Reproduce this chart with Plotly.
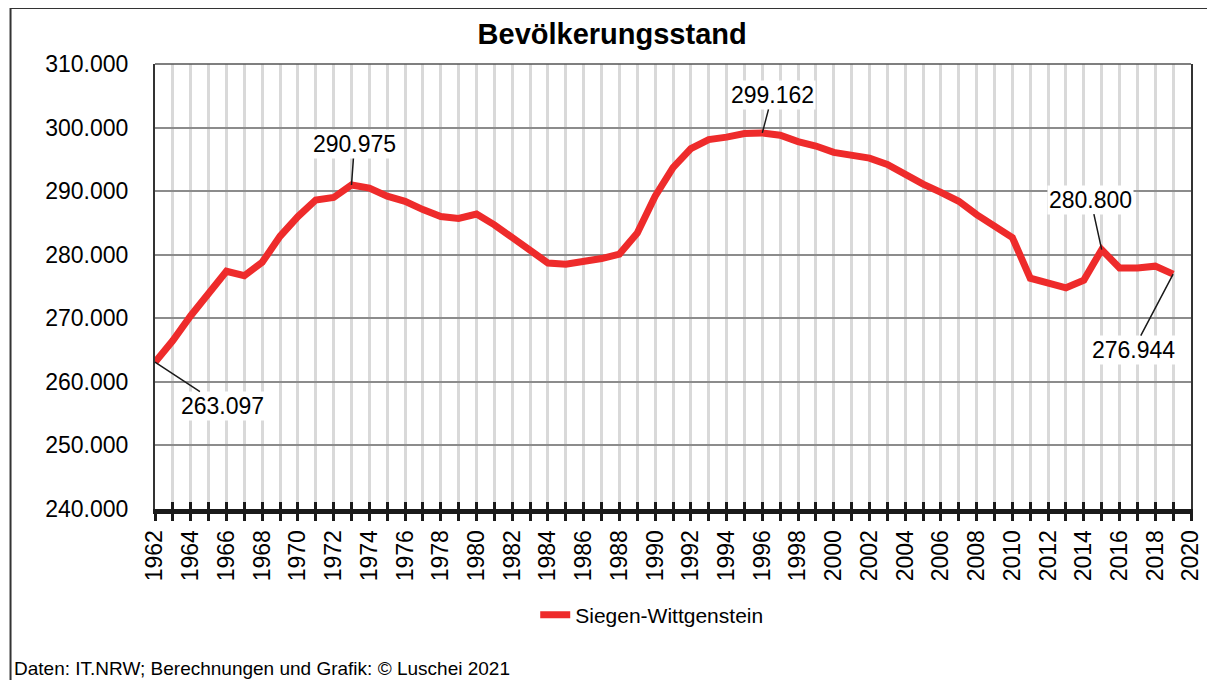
import plotly.graph_objects as go

years = list(range(1962, 2020))
population = [
    263097, 266500, 270400, 274000, 277400, 276700, 278800, 282900, 286000, 288600,
    289000, 290975, 290470, 289200, 288400, 287100, 286000, 285700, 286400, 284700,
    282600, 280800, 278700, 278500, 278900, 279400, 280100, 283400, 289200, 293700,
    296700, 298100, 298500, 299050, 299162, 298800, 297800, 297100, 296100, 295600,
    295200, 294200, 292600, 291100, 289800, 288400, 286300, 284500, 282700, 276300,
    275500, 274800, 276000, 280800, 277900, 277900, 278200, 276944,
]
series_name = "Siegen-Wittgenstein"
title_text = "Bevölkerungsstand"
footer_text = "Daten: IT.NRW; Berechnungen und Grafik: © Luschei 2021"
label_years = [1962, 1973, 1996, 2015, 2019]
label_offsets = {1962: (67, 44), 1973: (3, -41), 1996: (10, -38), 2015: (-11, -50), 2019: (-40, 76)}
x_tick_years = list(range(1962, 2021))
x_tick_text = [str(y) if y % 2 == 0 else "" for y in x_tick_years]

FONT = "Liberation Sans, Arial, sans-serif"
RED = "#ee2b2b"

# page body has an 8px margin; figure coordinates = page coordinates - 8
OFF = 8
W, H = 1215 - OFF, 680 - OFF
ML, MT = 155 - OFF, 64 - OFF
MR = W - (1202 - OFF)
MB = H - (509 - OFF)
pw, ph = W - ML - MR, H - MT - MB


def px_x(page_x):
    return (page_x - OFF - ML) / pw


def px_y(page_y):
    return ((H - MB) - (page_y - OFF)) / ph


fig = go.Figure()
fig.add_trace(go.Scatter(
    x=years, y=population, mode="lines", name=series_name,
    line=dict(color=RED, width=7), xaxis="x", yaxis="y",
))
# invisible helper trace so the second (tick-only) x axis renders
fig.add_trace(go.Scatter(
    x=years, y=population, mode="lines", showlegend=False, hoverinfo="skip",
    line=dict(color="rgba(0,0,0,0)", width=0), xaxis="x2", yaxis="y",
))


def fmt(v):
    return f"{v:,}".replace(",", ".")


for yr in label_years:
    v = population[years.index(yr)]
    ax, ay = label_offsets[yr]
    fig.add_annotation(
        x=yr, y=v, xref="x", yref="y", text=fmt(v), showarrow=True,
        arrowhead=0, arrowwidth=1.5, arrowcolor="#1a1a1a", ax=ax, ay=ay,
        bgcolor="white", font=dict(family=FONT, size=23, color="black"),
        borderpad=1,
    )

fig.add_annotation(
    x=px_x(10), y=px_y(668), xref="paper", yref="paper", xanchor="left", yanchor="middle",
    text=footer_text, showarrow=False, font=dict(family=FONT, size=19, color="black"),
)

# outer frame
fig.add_shape(type="rect", xref="paper", yref="paper",
              x0=px_x(9), x1=px_x(1230), y0=px_y(700), y1=px_y(8),
              line=dict(color="#333333", width=2), layer="below")
# plot area top border
fig.add_shape(type="line", xref="paper", yref="paper", x0=0, x1=1, y0=1, y1=1,
              line=dict(color="#555555", width=1.5))

fig.update_layout(
    width=W, height=H,
    margin=dict(l=ML, r=MR, t=MT, b=MB),
    paper_bgcolor="white", plot_bgcolor="white",
    separators=",.",
    title=dict(text=f"<b>{title_text}</b>", x=px_x(617), xref="paper", xanchor="center",
               y=1 - (34 - OFF) / H, yanchor="middle", font=dict(family=FONT, size=29, color="black")),
    showlegend=True,
    legend=dict(orientation="h", x=px_x(657), xanchor="center",
                y=px_y(615), yanchor="middle",
                font=dict(family=FONT, size=21, color="black"), bgcolor="rgba(0,0,0,0)"),
    xaxis=dict(
        range=[1962, 2020], tickmode="array", tickvals=x_tick_years, ticktext=x_tick_text,
        tickangle=-90, ticks="outside", ticklen=7, tickwidth=3, tickcolor="#1a1a1a",
        showgrid=True, gridcolor="#d9d9d9", gridwidth=2.5,
        showline=True, linecolor="#1a1a1a", linewidth=5,
        tickfont=dict(family=FONT, size=23, color="black"), zeroline=False,
    ),
    xaxis2=dict(
        range=[1962, 2020], overlaying="x", anchor="y", side="bottom",
        tickmode="linear", tick0=1962, dtick=1, ticks="inside", ticklen=7, tickwidth=3,
        tickcolor="#1a1a1a", showticklabels=False, showgrid=False, showline=False, zeroline=False,
    ),
    yaxis=dict(
        range=[240000, 310000], dtick=10000, tickformat=",d",
        showgrid=True, gridcolor="#8c8c8c", gridwidth=2,
        showline=True, linecolor="#333333", linewidth=2, mirror=True,
        ticks="", ticklabelstandoff=20,
        tickfont=dict(family=FONT, size=23, color="black"), zeroline=False,
    ),
)

fig.write_html("out.html")
